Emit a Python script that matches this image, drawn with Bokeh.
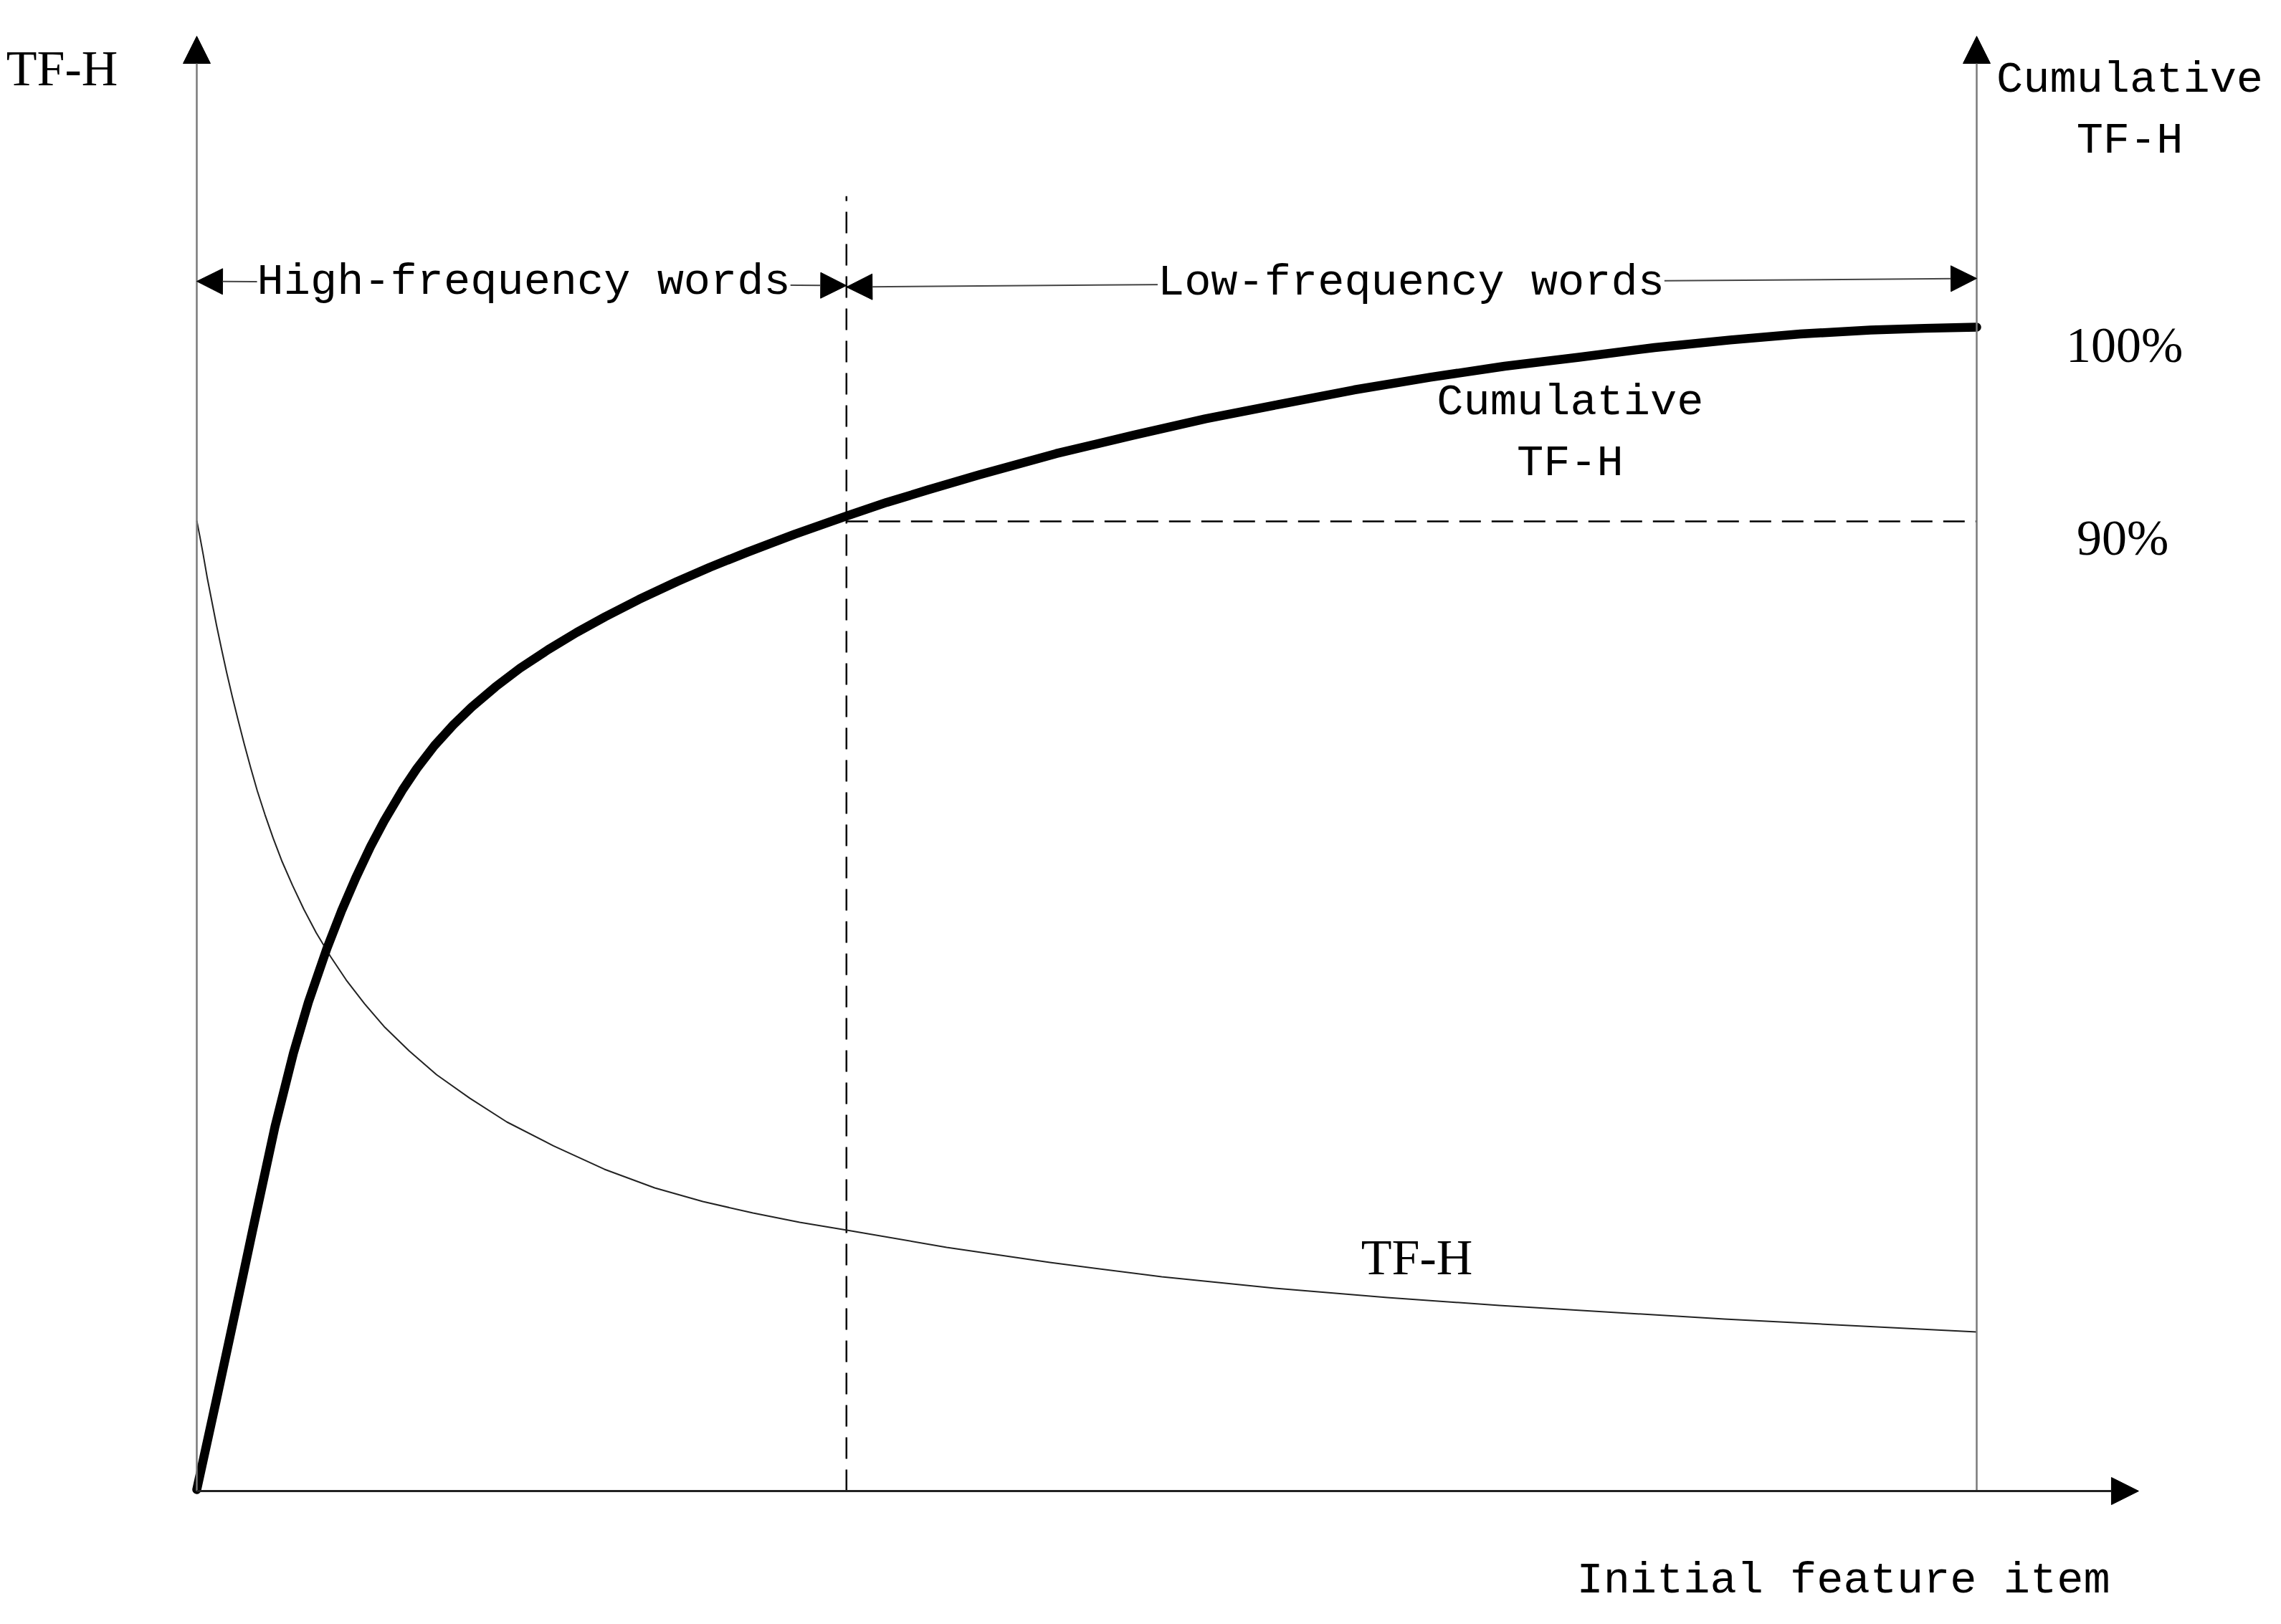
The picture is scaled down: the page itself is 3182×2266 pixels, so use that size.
from bokeh.plotting import figure
from bokeh.models import Range1d, Arrow, NormalHead, Label
from bokeh.embed import file_html
from bokeh.resources import INLINE

# ---------------- data ----------------
# x: position along the "Initial feature item" axis (0 = left axis, 100 = right axis)
tfh_x = [0, 0.18, 0.36, 0.59, 0.85, 1.11, 1.39, 1.68, 1.99, 2.32, 2.66, 3.02, 3.40,
         3.83, 4.29, 4.80, 5.38, 6.01, 6.71, 7.51, 8.40, 9.42, 10.57, 11.94, 13.47,
         15.34, 17.42, 20.02, 22.90, 25.73, 28.43, 31.25, 33.87, 36.53, 42.13, 47.93,
         54.21, 60.57, 66.89, 73.18, 85.82, 100]
tfh_y = [66.70, 65.57, 64.38, 62.76, 61.13, 59.51, 57.88, 56.26, 54.63, 53.00, 51.38,
         49.75, 48.13, 46.50, 44.88, 43.25, 41.63, 40.00, 38.37, 36.75, 35.12, 33.50,
         31.87, 30.25, 28.62, 27.00, 25.37, 23.74, 22.12, 20.84, 19.90, 19.11, 18.47,
         17.93, 16.75, 15.71, 14.73, 13.94, 13.30, 12.76, 11.82, 10.94]

cum_x = [0, 1.09, 2.13, 3.14, 4.39, 5.43, 6.27, 7.31, 8.14, 8.94, 9.76, 10.53, 11.55,
         12.36, 13.35, 14.41, 15.45, 16.78, 18.16, 19.73, 21.34, 22.95, 24.84, 26.98,
         28.83, 30.92, 33.60, 36.46, 38.77, 41.08, 43.96, 48.28, 52.60, 56.67, 60.73,
         65.02, 69.30, 73.48, 77.65, 81.90, 86.15, 90.09, 94.04, 97.06, 100]
cum_pct = [40.15, 44.72, 49.15, 53.51, 58.82, 62.62, 65.24, 68.01, 69.96, 71.66, 73.25,
           74.58, 76.16, 77.27, 78.45, 79.52, 80.44, 81.48, 82.44, 83.39, 84.28, 85.09,
           85.98, 86.90, 87.64, 88.41, 89.34, 90.26, 90.98, 91.62, 92.40, 93.49, 94.43,
           95.28, 96.01, 96.77, 97.42, 97.99, 98.45, 98.95, 99.34, 99.65, 99.85, 99.94,
           100]

boundary_x = 36.5          # split between high- and low-frequency words
threshold_pct = 90         # cumulative TF-H threshold
pct_labels = ["100%", "90%"]
region_labels = ["High-frequency words", "Low-frequency words"]

# ---------------- layout ----------------
W, H = 3176, 2250
OFF = 0
X0_PX, X1_PX = 274, 2757      # screen px of x=0 and x=100
Y0_PX, Y1_PX = 2080, 50       # screen px of y=0 and y=100
P100_PX, P90_PX = 456, 727    # screen px of 100% and 90% cumulative

xs = (X1_PX - X0_PX) / 100.0
ys = (Y0_PX - Y1_PX) / 100.0
ps = (P90_PX - P100_PX) / 10.0

x_range = Range1d((OFF - X0_PX) / xs, (OFF + W - X0_PX) / xs)
y_range = Range1d((Y0_PX - (OFF + H)) / ys, (Y0_PX - OFF) / ys)
cum_range = Range1d(100 - ((OFF + H) - P100_PX) / ps, 100 + (P100_PX - OFF) / ps)

p = figure(width=W, height=H, x_range=x_range, y_range=y_range,
           output_backend="svg", toolbar_location=None, min_border=0,
           x_axis_location=None, y_axis_location=None, outline_line_color=None)
p.extra_y_ranges = {"cum": cum_range}
p.grid.visible = False
p.background_fill_color = "white"
p.border_fill_color = "white"


def head(sz=38):
    return NormalHead(size=sz, fill_color="black", line_color="black", line_width=1)


# axes with arrow heads
p.add_layout(Arrow(end=head(), x_start=0, y_start=0, x_end=0, y_end=100,
                   line_color="#7a7a7a", line_width=2.5))
p.add_layout(Arrow(end=head(), x_start=100, y_start=0, x_end=100, y_end=100,
                   line_color="#7a7a7a", line_width=2.5))
p.add_layout(Arrow(end=head(), x_start=0, y_start=0, x_end=109.1, y_end=0,
                   line_color="#222222", line_width=3))

# dashed guides
p.line([boundary_x, boundary_x], [0, 89], line_color="black", line_width=2.5,
       line_dash="30 15")
p.line([boundary_x, 100], [threshold_pct, threshold_pct], y_range_name="cum",
       line_color="black", line_width=2.5, line_dash="30 15")

# range double arrows
p.add_layout(Arrow(start=head(36), end=head(36), x_start=0, y_start=83.15,
                   x_end=boundary_x, y_end=82.86, line_color="#444444", line_width=2))
p.add_layout(Arrow(start=head(36), end=head(36), x_start=boundary_x, y_start=82.76,
                   x_end=100, y_end=83.35, line_color="#444444", line_width=2))

# curves
p.line(tfh_x, tfh_y, line_color="#222222", line_width=2, line_join="round")
p.line(cum_x, cum_pct, y_range_name="cum", line_color="black", line_width=12.5,
       line_cap="round", line_join="round")

SERIF = "Liberation Serif"
MONO = "Liberation Mono"


def lab(x, y, text, font, size, bg=None, dy=1.1):
    kw = {}
    if bg:
        kw = dict(background_fill_color=bg, background_fill_alpha=1.0)
    p.add_layout(Label(x=x, y=y + dy, text=text, text_font=font,
                       text_font_size=f"{size}px", text_align="center",
                       text_baseline="alphabetic", text_color="black", **kw))


MDY = 0.85
lab(-7.57, 96.70, "TF-H", SERIF, 70)
lab(108.6, 96.16, "Cumulative", MONO, 62, dy=MDY)
lab(108.6, 91.97, "TF-H", MONO, 62, dy=MDY)
lab(108.3, 77.68, pct_labels[0], SERIF, 70)
lab(108.2, 64.43, pct_labels[1], SERIF, 70)
lab(18.37, 82.27, region_labels[0], MONO, 62, bg="white", dy=MDY)
lab(68.22, 82.20, region_labels[1], MONO, 62, bg="white", dy=MDY)
lab(77.16, 73.99, "Cumulative", MONO, 62, dy=MDY)
lab(77.16, 69.80, "TF-H", MONO, 62, dy=MDY)
lab(68.55, 14.98, "TF-H", SERIF, 70)
lab(92.51, -6.99, "Initial feature item", MONO, 62, dy=MDY)

open("out.html", "w").write(file_html(p, INLINE))
